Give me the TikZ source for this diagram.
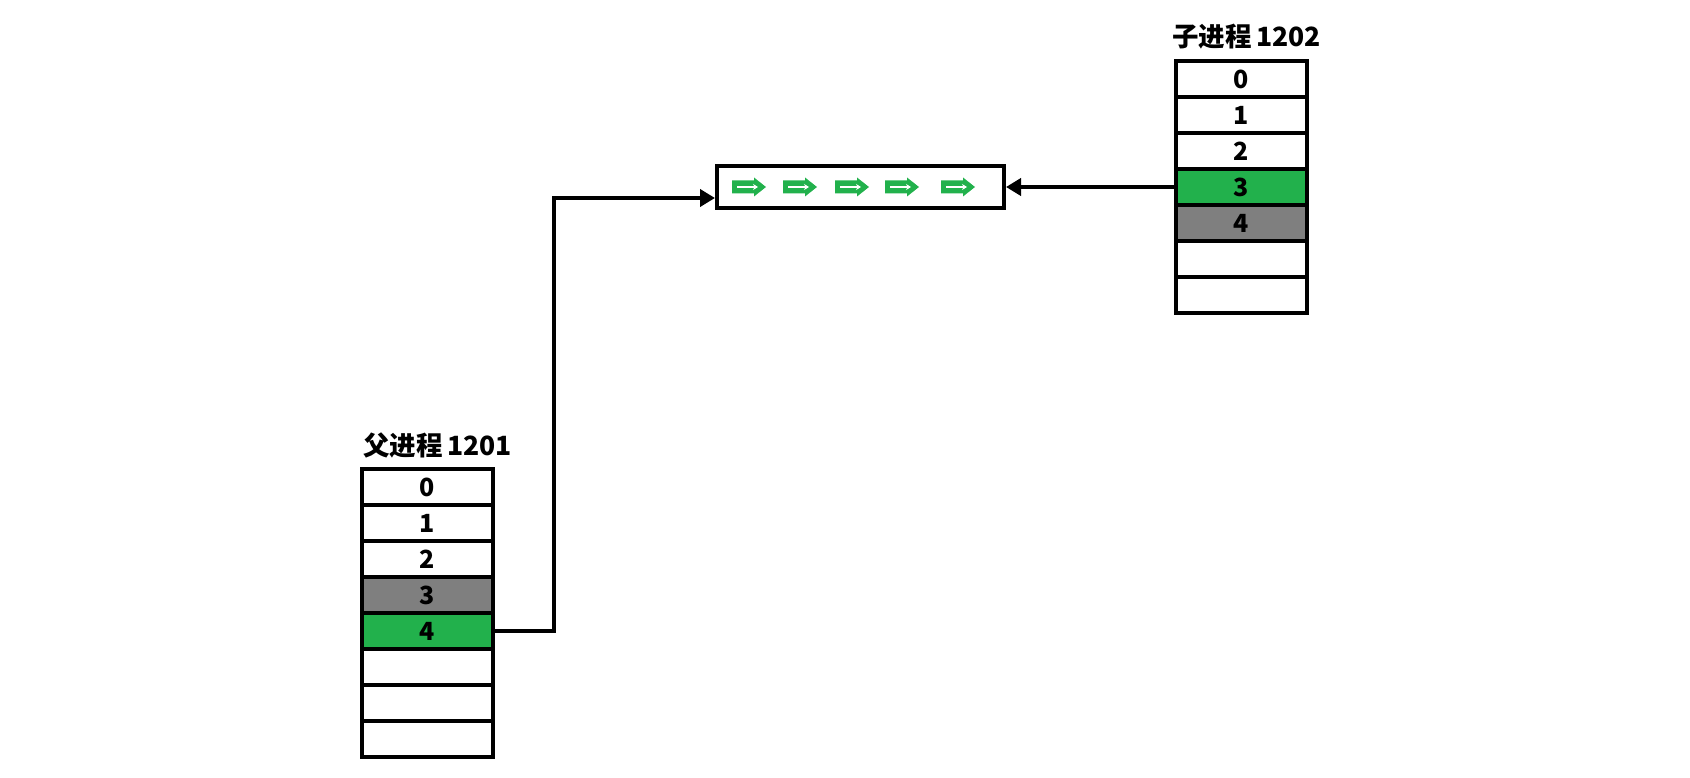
\documentclass[tikz,border=0pt]{standalone}
\usepackage{fontspec}
\setmainfont{Noto Sans CJK SC}
\usetikzlibrary{positioning, arrows.meta}
\definecolor{fdgreen}{HTML}{22B14C}
\definecolor{fdgray}{HTML}{7F7F7F}
\tikzset{
  fdcell/.style={draw, line width=4pt, minimum width=131pt, minimum height=36pt,
                 inner sep=0pt, font=\fontsize{25}{25}\selectfont\bfseries},
  proclabel/.style={anchor=base west, inner sep=0pt, font=\fontsize{26.5}{30}\selectfont\bfseries},
  link/.style={line width=4pt, -{Triangle[length=15pt, width=17pt]}},
}

\begin{document}
\begin{tikzpicture}[x=1pt, y=-1pt]
  \useasboundingbox (0,0) rectangle (1690,778);
  % parent fd table
  \node[proclabel] (plabel) at (363,455) {父进程\,1201};
  \foreach \i/\c in {0/white,1/white,2/white,3/fdgray,4/fdgreen,5/white,6/white,7/white}{
    \node[fdcell, fill=\c] (p\i) at (427.5,487+36*\i) {\ifnum\i<5 \i\fi};
  }
  % child fd table
  \node[proclabel] (clabel) at (1172,47) {子进程\,1202};
  \foreach \i/\c in {0/white,1/white,2/white,3/fdgreen,4/fdgray,5/white,6/white}{
    \node[fdcell, fill=\c] (c\i) at (1241.5,79+36*\i) {\ifnum\i<5 \i\fi};
  }
  % pipe
  \node[draw, line width=4pt, minimum width=287pt, minimum height=42pt, inner sep=0pt] (pipe) at (860.5,187) {};
  \foreach \x in {749,800,852,902,958}{
    \fill[fdgreen] (\x-17,180.5) -- (\x+5,180.5) -- (\x+5,177.5) -- (\x+17,187)
      -- (\x+5,196.5) -- (\x+5,193.5) -- (\x-17,193.5) -- cycle;
    \draw[white, line width=2pt, -{Stealth[length=5pt, width=6pt]}] (\x-12,187) -- (\x+9,187);
  }
  % connectors
  \draw[link] (p4.east) -- ++(59,0) |- ([yshift=-11pt]pipe.west);
  \draw[link] (c3.west) -- (pipe.east);
\end{tikzpicture}
\end{document}
